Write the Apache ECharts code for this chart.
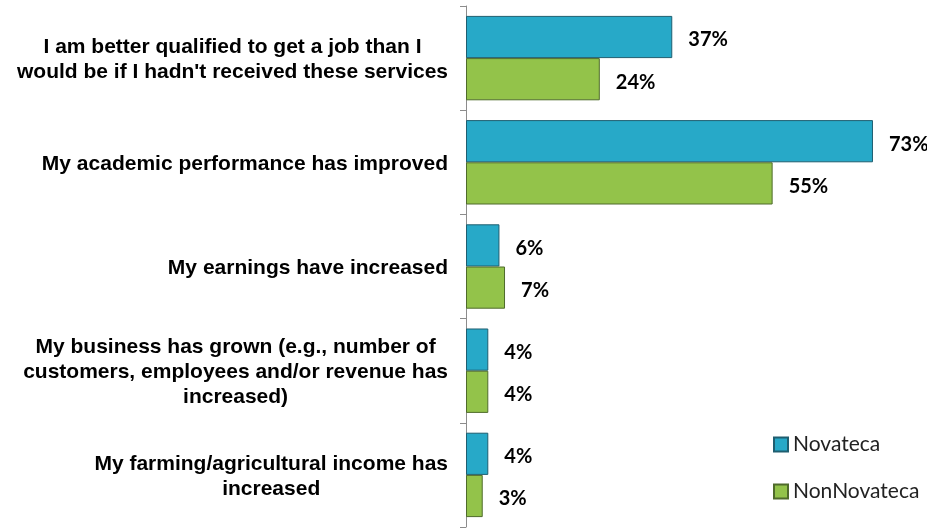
<!DOCTYPE html>
<html>
<head>
<meta charset="utf-8">
<script src="https://cdn.jsdelivr.net/npm/echarts@6/dist/echarts.min.js"></script>
<style>html,body{margin:0;padding:0;background:#fff;}#c{width:927px;height:530px;}</style>
</head>
<body>
<div id="c"></div>
<script>
var categories = [
  "I am better qualified to get a job than I\nwould be if I hadn't received these services",
  "My academic performance has improved",
  "My earnings have increased",
  "My business has grown (e.g., number of\ncustomers, employees and/or revenue has\nincreased)",
  "My farming/agricultural income has\nincreased"
];
var seriesNames = ["Novateca", "NonNovateca"];
var novateca = [37, 73, 6, 4, 4];
var nonNovateca = [24, 55, 7, 4, 3];

var chart = echarts.init(document.getElementById('c'), null, {renderer: 'canvas'});
var labelStyle = {
  show: true, position: 'right', distance: 16, offset: [0, 3],
  formatter: function (p) { return p.value + '%'; },
  fontFamily: 'Lato', fontWeight: 'bold', fontSize: 20, color: '#000'
};
chart.setOption({
  animation: false,
  backgroundColor: '#fff',
  grid: {left: 466, right: 15, top: 6, bottom: 3, containLabel: false},
  legend: {
    orient: 'vertical', left: 773, top: 434, padding: 0,
    itemWidth: 14, itemHeight: 14, itemGap: 26,
    icon: 'rect',
    textStyle: {fontFamily: 'Lato', fontSize: 21, color: '#222'},
    data: seriesNames
  },
  xAxis: {
    type: 'value', min: 0, max: 80,
    show: false
  },
  yAxis: {
    type: 'category', inverse: true, data: categories,
    axisLine: {show: true, lineStyle: {color: '#8c8c8c', width: 1}},
    axisTick: {show: true, length: 6, lineStyle: {color: '#8c8c8c'}},
    axisLabel: {
      margin: 18,
      padding: [4, 0, 0, 0],
      formatter: function (v) {
        return v.split('\n').map(function (l) { return '{c|' + l + '}'; }).join('\n');
      },
      rich: {
        c: {align: 'center', fontFamily: 'Liberation Sans', fontWeight: 'bold', fontSize: 21, lineHeight: 25, color: '#000'}
      }
    }
  },
  series: [
    {
      name: seriesNames[0], type: 'bar', data: novateca,
      barGap: '0%', barCategoryGap: '19%',
      itemStyle: {color: '#27A9C8', borderColor: '#1F5E70', borderWidth: 1},
      label: labelStyle
    },
    {
      name: seriesNames[1], type: 'bar', data: nonNovateca,
      barGap: '0%', barCategoryGap: '19%',
      itemStyle: {color: '#93C34A', borderColor: '#4F6B2B', borderWidth: 1},
      label: labelStyle
    }
  ]
});
</script>
</body>
</html>
